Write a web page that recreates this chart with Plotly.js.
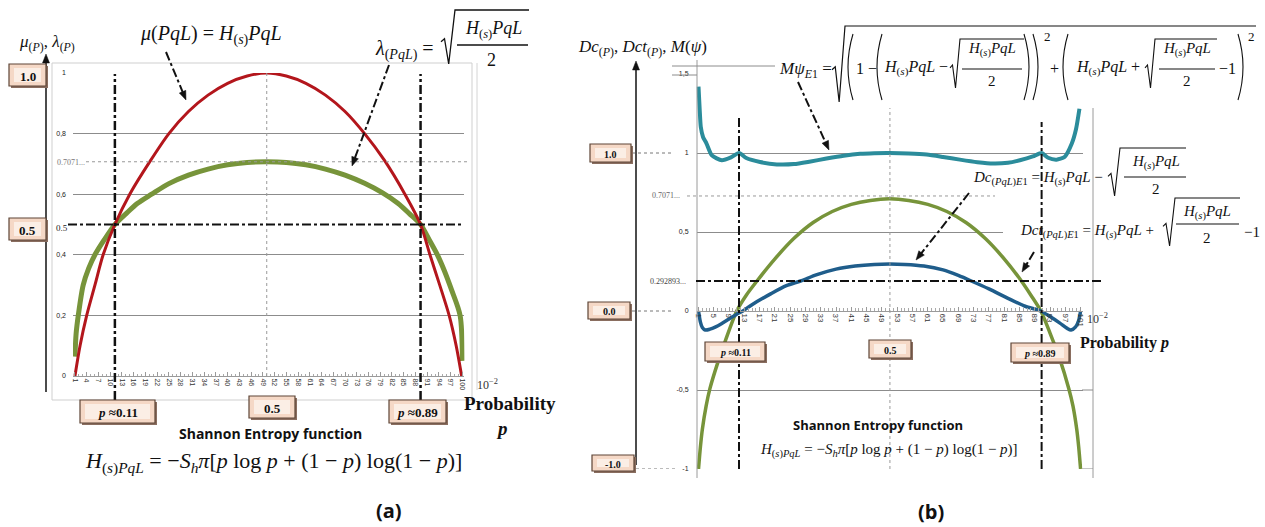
<!DOCTYPE html>
<html><head><meta charset="utf-8">
<script src="https://cdn.plot.ly/plotly-3.0.1.min.js"></script>
<style>html,body{margin:0;padding:0;background:#fff}#chart{width:1265px;height:527px}</style>
</head><body><div id="chart"></div>
<script>
// ---------- DATA ----------
// Panel (a): x = probability index (10^-2)
const muX = [1, 2.3, 4.0, 6.1, 8.2, 11.2, 15.0, 20, 25, 30, 35, 40, 45, 50, 55, 60, 65, 70, 75, 80, 85.3, 89.3, 91.7, 94.2, 96.6, 98.4, 99.8];
const muY = [0, 0.1, 0.2, 0.3, 0.4, 0.5, 0.6, 0.705, 0.8, 0.873, 0.927, 0.966, 0.99, 1.0, 0.99, 0.966, 0.927, 0.873, 0.8, 0.713, 0.6, 0.5, 0.4, 0.3, 0.2, 0.1, 0];
const lamX = [1, 1.3, 1.85, 3.1, 4.5, 6.1, 8.5, 11.2, 14, 17, 20.6, 25, 30, 35, 40, 45, 50, 55, 60, 65, 70, 75, 79.5, 83.5, 86.5, 89.3, 91.5, 93.6, 95.3, 97.2, 99.4, 100];
const lamY = [0.064, 0.14, 0.2, 0.3, 0.355, 0.4, 0.45, 0.5, 0.535, 0.57, 0.6, 0.635, 0.663, 0.683, 0.697, 0.705, 0.707, 0.705, 0.697, 0.683, 0.663, 0.636, 0.605, 0.57, 0.535, 0.5, 0.45, 0.4, 0.35, 0.285, 0.2, 0.05];
const leftTicks = [1,4,7,10,13,16,19,22,25,28,31,34,37,40,43,46,49,52,55,58,61,64,67,70,73,76,79,82,85,88,91,94,97,100];
const leftYTicks = [0, 0.2, 0.4, 0.6, 0.8, 1];
const leftYText = ['0', '0,2', '0,4', '0,6', '0,8', '1'];
const leftPLines = [11.2, 89.3];
const leftCenter = 50;

// Panel (b)
const mpsiX = [1, 1.3, 1.6, 2.2, 3.1, 4.5, 7.1, 9.5, 11.6, 13.5, 17.1, 21.5, 26, 30, 34.5, 39, 43.3, 47, 51.1, 56, 60.7, 65, 69.4, 74, 78.1, 82, 85.1, 88.5, 90.8, 92.5, 94.7, 96.8, 98.7, 99.8, 100.7];
const mpsiY = [1.42, 1.28, 1.165, 1.1, 1.06, 0.985, 0.954, 0.972, 1.0, 0.968, 0.943, 0.928, 0.93, 0.945, 0.965, 0.983, 0.995, 0.999, 1.0, 0.997, 0.99, 0.975, 0.958, 0.942, 0.933, 0.938, 0.954, 0.978, 1.0, 0.97, 0.958, 0.975, 1.06, 1.15, 1.28];
const dcX = [1, 1.5, 2, 2.75, 4, 5.5, 7, 9, 11, 12.6, 15, 20, 24, 27.7, 32, 37, 42, 47, 51, 55, 60, 65, 69, 72.4, 77, 82, 86.5, 90.6, 93, 95.5, 97.5, 98.5, 99.7, 100.5, 101];
const dcY = [0.0, -0.07, -0.105, -0.12, -0.115, -0.1, -0.08, -0.05, -0.02, 0.0, 0.04, 0.11, 0.16, 0.19, 0.23, 0.265, 0.285, 0.295, 0.297, 0.295, 0.285, 0.26, 0.225, 0.19, 0.14, 0.08, 0.03, 0.0, -0.035, -0.075, -0.11, -0.12, -0.1, -0.06, 0.0];
const dctX = [1, 1.5, 2, 3, 4, 6, 8, 11, 13.5, 16.3, 21, 26, 31, 36, 41, 46, 51, 56, 61, 66, 71, 76, 81, 85.5, 88, 90.6, 93, 95.5, 97.9, 99, 100, 100.5, 101];
const dctY = [-1.0, -0.86, -0.75, -0.6, -0.49, -0.33, -0.19, 0.0, 0.1, 0.19, 0.33, 0.46, 0.56, 0.63, 0.675, 0.70, 0.71, 0.70, 0.675, 0.63, 0.56, 0.46, 0.33, 0.19, 0.1, 0.0, -0.14, -0.3, -0.49, -0.6, -0.75, -0.86, -1.0];
const rightTicks = [1,5,9,13,17,21,25,29,33,37,41,45,49,53,57,61,65,69,73,77,81,85,89,93,97,101];
const rightYTicks = [-1, -0.5, 0, 0.5, 1, 1.5];
const rightYText = ['-1', '-0,5', '0', '0,5', '1', '1,5'];
const rightPLines = [11.6, 90.8];
const rightCenter = 51.1;
const refLevel7071 = 0.728;   // where the "0.7071..." guide is drawn
const refLevel2929 = 0.19;    // where the "0.292893..." guide is drawn

// ---------- helpers ----------
const W = 1265, H = 527;
const px = x => x / W, py = y => 1 - y / H;
const SERIF = '"Liberation Serif", "Times New Roman", serif';
const SANS = '"Open Sans", "Liberation Sans", sans-serif';
const ARIAL = '"Liberation Sans", Arial, sans-serif';
const RED = '#b3161c', GREEN = '#77943a', TEAL = '#2b8c9b', BLUE = '#1f5d8b';

const shapes = [], ann = [];
function L(x0, y0, x1, y1, color, width, dash) {
  shapes.push({type:'line', xref:'paper', yref:'paper', x0:px(x0), y0:py(y0), x1:px(x1), y1:py(y1),
    line:{color:color||'#111', width:width||1, dash:dash||'solid'}});
}
function T(text, x, y, size, o) {
  ann.push(Object.assign({xref:'paper', yref:'paper', x:px(x), y:py(y), text:text, showarrow:false,
    xanchor:'center', yanchor:'middle', font:{family:SERIF, size:size, color:'#111'}}, o||{}));
}
// filled arrow head (triangle) pointing from (sx,sy) to tip (ex,ey), all in pixels
function HEAD(sx, sy, ex, ey, len, half) {
  len = len || 9; half = half || 4;
  const dx = ex - sx, dy = ey - sy, d = Math.hypot(dx, dy), ux = dx/d, uy = dy/d;
  const bx = ex - ux*len, by = ey - uy*len;
  const p1 = [bx - uy*half, by + ux*half], p2 = [bx + uy*half, by - ux*half];
  shapes.push({type:'path', xref:'paper', yref:'paper',
    path:'M' + px(ex) + ',' + py(ey) + 'L' + px(p1[0]) + ',' + py(p1[1]) + 'L' + px(p2[0]) + ',' + py(p2[1]) + 'Z',
    fillcolor:'#111', line:{color:'#111', width:0.5}});
}
function ARROWDD(sx, sy, ex, ey) {
  const dx = ex - sx, dy = ey - sy, d = Math.hypot(dx, dy);
  L(sx, sy, ex - dx/d*6, ey - dy/d*6, '#111', 2, 'dashdot'); HEAD(sx, sy, ex, ey, 9, 3.5);
}
function RAD(xl, xr, yt, yb, w, lw) {
  const ym = yt + (yb - yt) * 0.55;
  const pts = [[xl, ym + 2], [xl + w*0.25, ym - 1], [xl + w*0.55, yb], [xl + w, yt], [xr, yt]];
  shapes.push({type:'path', xref:'paper', yref:'paper',
    path:'M' + pts.map(p => px(p[0]) + ',' + py(p[1])).join('L'), line:{color:'#111', width:lw||1.1}});
}
function PAR(x, yt, yb, open, b) {
  b = b || 5; const ym = (yt + yb) / 2; let p;
  if (open) p = 'M' + px(x+b) + ',' + py(yt) + 'Q' + px(x-b) + ',' + py(ym) + ' ' + px(x+b) + ',' + py(yb);
  else p = 'M' + px(x-b) + ',' + py(yt) + 'Q' + px(x+b) + ',' + py(ym) + ' ' + px(x-b) + ',' + py(yb);
  shapes.push({type:'path', xref:'paper', yref:'paper', path:p, line:{color:'#111', width:1.1}});
}
function RECT(x0, y0, x1, y1, fill, line, lw) {
  shapes.push({type:'rect', xref:'paper', yref:'paper', x0:px(x0), y0:py(y1), x1:px(x1), y1:py(y0),
    fillcolor:fill, line:{color:line||'rgba(0,0,0,0)', width:lw||0}});
}
function BOX(x0, y0, x1, y1, text, size) {
  RECT(x0+2, y0+2, x1+2, y1+2, '#8a6e60');
  RECT(x0, y0, x1, y1, '#f5d8c6', '#5e4536', 1.2);
  RECT(x0+5, y0+4, x1-5, y1-4, '#fbeee5');
  T('<b>' + text + '</b>', (x0+x1)/2, (y0+y1)/2 + 1, size);
}
const HS = '<i>H</i><sub>(<i>s</i>)</sub><i>PqL</i>';

// ---------- white covers behind formulas (b) ----------
RECT(772, 20, 1262, 104, '#ffffff');
RECT(1003, 195, 1263, 248, '#ffffff');

// ---------- panel (a) decorations ----------
RECT(52, 63, 472, 400, 'rgba(0,0,0,0)', '#cfcfcf', 1);
L(477, 63, 477, 390, '#d4d4d4', 1);
L(46, 392, 46, 60, '#111', 1.5);
HEAD(46, 392, 46, 54, 9, 3.5);
leftPLines.forEach(v => shapes.push({type:'line', xref:'x', yref:'paper', x0:v, x1:v, y0:py(400), y1:py(74),
  line:{color:'#111', width:2.5, dash:'dashdot'}}));
shapes.push({type:'line', xref:'x', yref:'y', x0:leftCenter, x1:leftCenter, y0:0, y1:1, line:{color:'#999', width:1, dash:'dot'}});
shapes.push({type:'line', xref:'paper', yref:'y', x0:px(68), x1:px(462), y0:0.5, y1:0.5, line:{color:'#111', width:2, dash:'dashdot'}});
shapes.push({type:'line', xref:'paper', yref:'y', x0:px(86), x1:px(470), y0:0.7071, y1:0.7071, line:{color:'#999', width:1, dash:'dot'}});
T('0.5', 62, 228, 9, {font:{family:SERIF, size:9, color:'#222'}});
T('0.7071...', 71, 162, 8, {font:{family:SERIF, size:8, color:'#777'}});

BOX(9, 64, 46, 86, '1.0', 13);
BOX(9, 218, 46, 240, '0.5', 13);
BOX(80, 400, 155, 423, '<i>p</i> ≈0.11', 13);
BOX(249, 396, 295, 418, '0.5', 13);
BOX(389, 400, 446, 423, '<i>p</i> ≈0.89', 13);

T('<i>μ</i><sub>(<i>P</i>)</sub>, <i>λ</i><sub>(<i>P</i>)</sub>', 47, 43, 17);
T('<i>μ</i>(<i>PqL</i>) = <i>H</i><sub>(<i>s</i>)</sub><i>PqL</i>', 211, 35, 20);
ARROWDD(166, 52, 186, 100);
T('<i>λ</i><sub>(<i>PqL</i>)</sub> =', 404, 50, 20);
RAD(441, 529, 10, 64, 14, 1.3);
T(HS, 493, 30, 18);
L(457, 45, 528, 45, '#111', 1.3);
T('2', 492, 60, 18);
ARROWDD(389, 65, 352, 166);

T('10<sup>−2</sup>', 487, 384, 12, {font:{family:SERIF, size:12, color:'#333'}});
T('<b>Probability</b>', 510, 403, 19);
T('<b><i>p</i></b>', 502, 428, 19);
T('<b>Shannon Entropy function</b>', 270, 433, 14, {font:{family:SANS, size:14, color:'#111'}});
T('<i>H</i><sub>(<i>s</i>)<i>PqL</i></sub> = −<i>S</i><sub><i>h</i></sub><i>π</i>[<i>p</i> log <i>p</i> + (1 − <i>p</i>) log(1 − <i>p</i>)]', 273, 462, 22);
T('<b>(a)</b>', 389, 510, 20, {font:{family:SANS, size:20, color:'#111'}});

// ---------- panel (b) decorations ----------
L(697, 60, 697, 478, '#9a9a9a', 1);
L(1093, 108, 1093, 478, '#9a9a9a', 1);
L(672, 66, 775, 66, '#8c8c8c', 1);
L(672, 75, 697, 75, '#8c8c8c', 1);
shapes.push({type:'line', xref:'paper', yref:'y2', x0:px(1082), x1:px(1093), y0:-0.5, y1:-0.5, line:{color:'#8c8c8c', width:1}});
shapes.push({type:'line', xref:'paper', yref:'y2', x0:px(1082), x1:px(1093), y0:-1, y1:-1, line:{color:'#8c8c8c', width:1}});
L(636, 465, 636, 67, '#111', 1.5);
HEAD(636, 465, 636, 61, 9, 3.5);
[[1, 632, 672], [0, 632, 672], [-1, 636, 676]].forEach(d => shapes.push({type:'line', xref:'paper', yref:'y2',
  x0:px(d[1]), x1:px(d[2]), y0:d[0], y1:d[0], line:{color:'#777', width:1, dash:'dot'}}));
shapes.push({type:'line', xref:'paper', yref:'y2', x0:px(687), x1:px(995), y0:refLevel7071, y1:refLevel7071, line:{color:'#999', width:1, dash:'dot'}});
shapes.push({type:'line', xref:'paper', yref:'y2', x0:px(696), x1:px(1102), y0:refLevel2929, y1:refLevel2929, line:{color:'#111', width:2, dash:'dashdot'}});
shapes.push({type:'line', xref:'x2', yref:'paper', x0:rightPLines[0], x1:rightPLines[0], y0:py(469), y1:py(117), line:{color:'#111', width:2, dash:'dashdot'}});
shapes.push({type:'line', xref:'x2', yref:'paper', x0:rightPLines[1], x1:rightPLines[1], y0:py(469), y1:py(122), line:{color:'#111', width:2, dash:'dashdot'}});
shapes.push({type:'line', xref:'x2', yref:'paper', x0:rightCenter, x1:rightCenter, y0:py(469), y1:py(108), line:{color:'#999', width:1, dash:'dot'}});
T('0.7071...', 666, 196, 8, {font:{family:SERIF, size:8, color:'#666'}});
T('0.292893...', 668, 281, 8, {font:{family:SERIF, size:8, color:'#444'}});

BOX(590, 144, 631, 162, '1.0', 10);
BOX(588, 302, 630, 319, '0.0', 10);
BOX(592, 455, 634, 471, '-1.0', 10);
BOX(705, 342, 765, 361, '<i>p</i> ≈0.11', 10);
BOX(869, 340, 911, 358, '0.5', 10);
BOX(1011, 343, 1069, 362, '<i>p</i> ≈0.89', 10);

T('<i>Dc</i><sub>(<i>P</i>)</sub>, <i>Dct</i><sub>(<i>P</i>)</sub>, <i>M</i>(<i>ψ</i>)', 642, 48, 17);

// M psi formula
T('<i>Mψ</i><sub><i>E</i>1</sub> =', 805, 70, 17);
RAD(832, 1256, 26, 102, 13, 1.2);
PAR(848, 34, 100, true, 5);
T('1 −', 866, 68, 16);
PAR(877, 34, 100, true, 5);
T(HS + ' −', 916, 68, 16);
RAD(950, 1024, 39, 88, 10, 1.1);
T(HS, 992, 50, 15);
L(962, 69, 1022, 69, '#111', 1.1);
T('2', 992, 81, 15);
PAR(1029, 34, 100, false, 5);
PAR(1038, 34, 100, false, 5);
T('2', 1047, 37, 13);
T('+', 1054, 68, 16);
PAR(1063, 34, 100, true, 5);
T(HS + ' +', 1108, 68, 16);
RAD(1145, 1217, 39, 88, 10, 1.1);
T(HS, 1187, 50, 15);
L(1159, 69, 1215, 69, '#111', 1.1);
T('2', 1187, 81, 15);
T('−1', 1227, 68, 16);
PAR(1243, 34, 100, false, 5);
T('2', 1251, 37, 13);
ARROWDD(798, 82, 829, 150);

// Dc formula
T('<i>Dc</i><sub>(<i>PqL</i>)<i>E</i>1</sub> = ' + HS + ' −', 1038, 179, 15);
RAD(1108, 1186, 148, 196, 12, 1.1);
T(HS, 1156, 162, 15);
L(1124, 177, 1186, 177, '#111', 1.1);
T('2', 1156, 189, 15);
ARROWDD(969, 193, 916, 260);

// Dct formula
T('<i>Dct</i><sub>(<i>PqL</i>)<i>E</i>1</sub> = ' + HS + ' +', 1087, 232, 15);
RAD(1163, 1240, 198, 246, 12, 1.1);
T(HS, 1207, 212, 15);
L(1176, 224, 1239, 224, '#111', 1.1);
T('2', 1207, 238, 15);
T('−1', 1252, 232, 15);
ARROWDD(1034, 252, 1022, 272);

T('10<sup>−2</sup>', 1097, 318, 12, {font:{family:SERIF, size:12, color:'#333'}});
T('<b>Probability <i>p</i></b>', 1124, 343, 16);
T('<b>Shannon Entropy function</b>', 878, 425, 13, {font:{family:SANS, size:13, color:'#111'}});
T('<i>H</i><sub>(<i>s</i>)<i>PqL</i></sub> = −<i>S</i><sub><i>h</i></sub><i>π</i>[<i>p</i> log <i>p</i> + (1 − <i>p</i>) log(1 − <i>p</i>)]', 889, 450, 15);
T('<b>(b)</b>', 931, 511, 20, {font:{family:SANS, size:20, color:'#111'}});

// ---------- traces ----------
const traces = [
  {x:lamX, y:lamY, xaxis:'x', yaxis:'y', mode:'lines', line:{color:GREEN, width:5, shape:'spline', smoothing:0.8}},
  {x:muX, y:muY, xaxis:'x', yaxis:'y', mode:'lines', line:{color:RED, width:3, shape:'spline', smoothing:0.8}},
  {x:dctX, y:dctY, xaxis:'x2', yaxis:'y2', mode:'lines', line:{color:GREEN, width:3.5, shape:'spline', smoothing:0.8}},
  {x:dcX, y:dcY, xaxis:'x2', yaxis:'y2', mode:'lines', line:{color:BLUE, width:3.5, shape:'spline', smoothing:0.8}},
  {x:mpsiX, y:mpsiY, xaxis:'x2', yaxis:'y2', mode:'lines', line:{color:TEAL, width:4, shape:'spline', smoothing:0.6}}
];

const layout = {
  width:W, height:H, margin:{l:0, r:0, t:0, b:0}, paper_bgcolor:'#fff', plot_bgcolor:'rgba(0,0,0,0)',
  showlegend:false, hovermode:false,
  xaxis:{domain:[px(73), px(464.4)], range:[0.5, 100.5], anchor:'y', tickmode:'array', tickvals:leftTicks,
    ticktext:leftTicks.map(String), tickangle:90, tickfont:{size:7, family:ARIAL, color:'#333'},
    showgrid:false, zeroline:false, showline:true, linecolor:'#9a9a9a', linewidth:1,
    ticks:'inside', ticklen:4, tickcolor:'#9a9a9a',
    minor:{ticks:'inside', ticklen:2, tickmode:'linear', tick0:1, dtick:1, tickcolor:'#aaa', showgrid:false}},
  yaxis:{domain:[py(376), py(73)], range:[0, 1], anchor:'x', tickmode:'array', tickvals:leftYTicks, ticktext:leftYText,
    tickfont:{size:7, family:ARIAL, color:'#222'}, showgrid:true, gridcolor:'#8c8c8c', gridwidth:1,
    zeroline:false, showline:false, ticks:'', ticklabelstandoff:6},
  xaxis2:{domain:[px(696.6), px(1082.5)], range:[0.5, 101.5], anchor:'free', position:py(311), tickmode:'array',
    tickvals:rightTicks, ticktext:rightTicks.map(String), tickangle:90, tickfont:{size:8, family:ARIAL, color:'#333'},
    showgrid:false, zeroline:false, showline:true, linecolor:'#9a9a9a', linewidth:1,
    ticks:'inside', ticklen:4, tickcolor:'#9a9a9a',
    minor:{ticks:'inside', ticklen:3, tickmode:'linear', tick0:1, dtick:1, tickcolor:'#aaa', showgrid:false}},
  yaxis2:{domain:[py(469), py(74)], range:[-1, 1.5], anchor:'x2', tickmode:'array', tickvals:rightYTicks, ticktext:rightYText,
    tickfont:{size:7, family:ARIAL, color:'#222'}, showgrid:true, gridcolor:'#8c8c8c', gridwidth:1,
    zeroline:false, showline:false, ticks:'', ticklabelstandoff:7},
  shapes:shapes, annotations:ann
};
Plotly.newPlot('chart', traces, layout, {displayModeBar:false, staticPlot:true});
</script></body></html>
